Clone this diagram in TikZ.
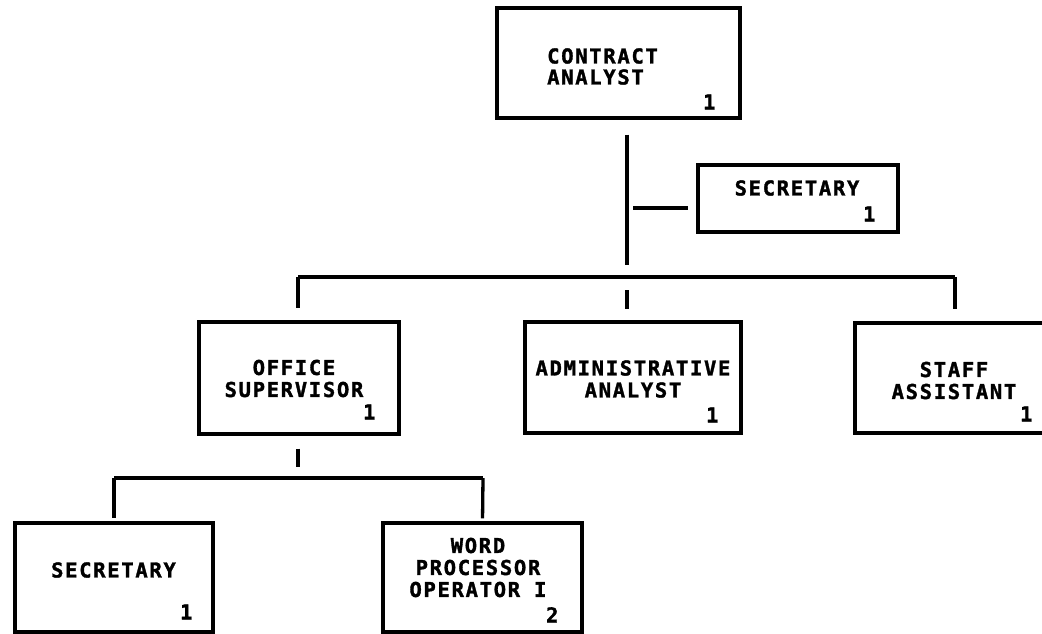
\documentclass[tikz,border=0pt]{standalone}
\usepackage{fontspec}
\newfontfamily\chartfont[LetterSpace=8.3, FakeBold=1.6]{DejaVu Sans Mono}
\usepackage{tikz}
\usetikzlibrary{positioning}

\tikzset{
  post/.style={draw, line width=3.2pt, inner sep=0pt},
  title/.style={font=\chartfont\bfseries\fontsize{20.5}{22}\selectfont, inner sep=0pt, align=center},
  count/.style={font=\chartfont\bfseries\fontsize{20.5}{22}\selectfont, inner sep=0pt},
  link/.style={line width=3.3pt}
}

\begin{document}
\begin{tikzpicture}[x=1pt, y=-1pt]
	\clip (0,0) rectangle (1042,634);

	% top of the chart
	\node[post, minimum width=243pt, minimum height=110pt] (ca) at (618.5,63) {};
	\node[title, align=left, anchor=west] (caT) at (547,66.5) {CONTRACT\\[-1pt]ANALYST};
	\node[count, above left=10pt and 26pt of ca.south east] (caN) {1};

	\node[post, minimum width=200pt, minimum height=67pt] (sec) at (798,198.5) {};
	\node[title] (secT) at (797,188) {SECRETARY};
	\node[count, above left=12pt and 24pt of sec.south east] (secN) {1};

	% second row
	\node[post, minimum width=200pt, minimum height=112pt] (os) at (299,378) {};
	\node[title] (osT) at (294,378.5) {OFFICE\\SUPERVISOR};
	\node[count, above left=16pt and 25pt of os.south east] (osN) {1};

	\node[post, minimum width=216pt, minimum height=111pt] (aa) at (633,377.5) {};
	\node[title] (aaT) at (633,379) {ADMINISTRATIVE\\ANALYST};
	\node[count, above left=12pt and 24pt of aa.south east] (aaN) {1};

	\node[post, minimum width=200pt, minimum height=110pt] (sa) at (955,378) {};
	\node[title] (saT) at (954,380.5) {STAFF\\ASSISTANT};
	\node[count, above left=13pt and 24pt of sa.south east] (saN) {1};

	% third row
	\node[post, minimum width=198pt, minimum height=109pt] (ls) at (114,577.5) {};
	\node[title] (lsT) at (113.5,570) {SECRETARY};
	\node[count, above left=14pt and 22pt of ls.south east] (lsN) {1};

	\node[post, minimum width=199pt, minimum height=109pt] (wp) at (482.5,577.5) {};
	\node[title] (wpT) at (478,567.5) {WORD\\PROCESSOR\\OPERATOR I};
	\node[count, above left=11pt and 25pt of wp.south east] (wpN) {2};

	% buses
	\coordinate (busL) at (298,277);
	\coordinate (busM) at (627,277);
	\coordinate (busR) at (955,277);
	\coordinate (lowL) at (114,478);
	\coordinate (lowR) at (483,478);

	\draw[link, shorten <=15pt, shorten >=12pt] (ca.south -| busM) -- (busM);
	\draw[link, shorten <=6pt, shorten >=8pt] ([yshift=-9.5pt]sec.west -| busM) -- ([yshift=-9.5pt]sec.west);
	\draw[link] (busL) -- (busR);
	\draw[link, shorten >=12pt] (busL) -- (os.north -| busL);
	\draw[link, shorten <=13pt, shorten >=11pt] (busM) -- (aa.north -| busM);
	\draw[link, shorten >=12pt] (busR) -- (sa.north -| busR);

	\draw[link, shorten <=13pt, shorten >=11pt] (os.south -| busL) -- (busL |- lowL);
	\draw[link] (lowL) -- (lowR);
	\draw[link, shorten >=3pt] (lowL) -- (ls.north);
	\draw[link, shorten >=3pt] (lowR) -- (wp.north);
\end{tikzpicture}
\end{document}
